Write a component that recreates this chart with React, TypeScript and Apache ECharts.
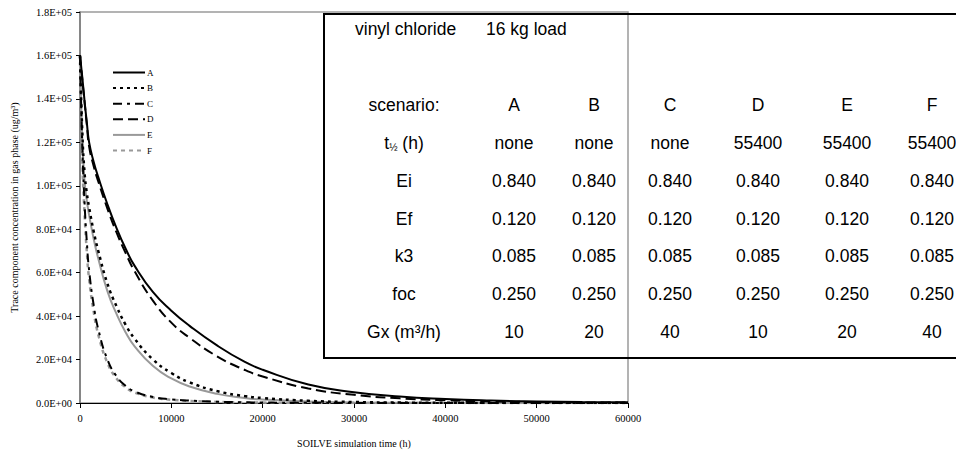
import React, { useEffect, useRef } from "react";
import * as echarts from "echarts";

// ---- data ----
const times = [0, 250, 500, 750, 1000, 1500, 2000, 3000, 4000, 5000, 6000, 8000, 10000, 12000, 15000, 18000, 20000, 25000, 30000, 35000, 40000, 45000, 50000, 55000, 60000];
const seriesA = [160000, 150000, 139000, 129000, 120000, 111000, 104000, 91500, 80500, 71000, 63000, 51000, 42500, 35500, 26500, 19000, 15300, 8500, 5000, 2950, 1800, 1100, 700, 450, 300];
const seriesB = [160000, 125000, 106000, 96500, 90000, 79000, 70000, 55000, 44500, 36000, 29500, 20000, 13800, 9500, 5500, 3200, 2300, 1000, 450, 200, 90, 40, 20, 10, 5];
const seriesC = [160000, 118000, 92000, 74000, 61000, 45000, 34000, 20000, 12300, 7900, 5300, 2800, 1700, 1100, 600, 330, 220, 90, 40, 18, 8, 4, 2, 1, 0];
const seriesD = [160000, 149000, 138500, 128000, 118000, 109000, 102000, 89500, 78500, 69000, 60500, 47000, 37000, 30000, 21500, 15300, 12200, 6700, 3750, 2150, 1250, 750, 450, 280, 180];
const seriesE = [160000, 122000, 102000, 93000, 86500, 75500, 66500, 51500, 41000, 32500, 26000, 17000, 11300, 7600, 4200, 2300, 1600, 650, 270, 110, 45, 20, 8, 3, 1];
const seriesF = [160000, 112000, 87000, 69500, 57000, 42000, 31500, 18500, 11300, 7200, 4800, 2500, 1500, 950, 500, 270, 180, 70, 30, 13, 6, 3, 1, 1, 0];

const scenarioNames = ["A", "B", "C", "D", "E", "F"];
const halfLives = ["none", "none", "none", "55400", "55400", "55400"];
const eiValues = ["0.840", "0.840", "0.840", "0.840", "0.840", "0.840"];
const efValues = ["0.120", "0.120", "0.120", "0.120", "0.120", "0.120"];
const k3Values = ["0.085", "0.085", "0.085", "0.085", "0.085", "0.085"];
const focValues = ["0.250", "0.250", "0.250", "0.250", "0.250", "0.250"];
const gxValues = ["10", "20", "40", "10", "20", "40"];
const rowLabels = ["scenario:", "t½ (h)", "Ei", "Ef", "k3", "foc", "Gx (m³/h)"];
const tableTitle = ["vinyl chloride", "16 kg load"];
const xTicks = { min: 0, max: 60000, interval: 10000 };
const yTicks = { min: 0, max: 180000, interval: 20000 };

const SERIF = "'Liberation Serif', 'Times New Roman', serif";
const SANS = "'Liberation Sans', Arial, sans-serif";

function sci(v: number): string {
  if (v === 0) return "0.0E+00";
  const e = Math.floor(Math.log10(Math.abs(v)) + 1e-9);
  const m = v / Math.pow(10, e);
  return m.toFixed(1) + "E" + (e < 0 ? "-" : "+") + String(Math.abs(e)).padStart(2, "0");
}

export default function App() {
  const ref = useRef<HTMLDivElement>(null);
  useEffect(() => {
    if (!ref.current) return;
    const chart = echarts.init(ref.current, null, { renderer: "svg" });

    const styles: Record<string, any> = {
      A: { color: "#000", type: "solid", width: 2 },
      B: { color: "#000", type: [3, 4], width: 2.5 },
      C: { color: "#000", type: [9, 5, 3, 5], width: 2 },
      D: { color: "#000", type: [10, 5], width: 2 },
      E: { color: "#999", type: "solid", width: 2 },
      F: { color: "#999", type: [4, 4], width: 2.5 },
    };
    const all = [seriesA, seriesB, seriesC, seriesD, seriesE, seriesF];

    const series = scenarioNames.map((n, i) => ({
      name: n,
      type: "line",
      data: times.map((t, j) => [t, all[i][j]]),
      showSymbol: false,
      symbol: "none",
      smooth: 0.5,
      lineStyle: styles[n],
      itemStyle: { color: styles[n].color },
      z: 10 - i,
    }));

    // table graphics
    const colX = [514, 594, 670, 758, 847, 932];
    const labelX = 404;
    const rowY = [105, 143, 181, 219, 256, 294, 332];
    const rows = [scenarioNames, halfLives, eiValues, efValues, k3Values, focValues, gxValues];
    const FS = 17.5;
    const tfont = { fontFamily: SANS, fontSize: FS, fill: "#000" };
    const elements: any[] = [
      {
        type: "rect",
        shape: { x: 324, y: 14, width: 700, height: 344 },
        style: { fill: "none", stroke: "#000", lineWidth: 2 },
      },
      { type: "text", x: 355, y: 29, style: { ...tfont, text: tableTitle[0], textAlign: "left", textVerticalAlign: "middle" } },
      { type: "text", x: 486, y: 29, style: { ...tfont, text: tableTitle[1], textAlign: "left", textVerticalAlign: "middle" } },
    ];
    rowLabels.forEach((lab, r) => {
      if (r === 1) {
        elements.push({
          type: "text",
          x: labelX,
          y: rowY[r],
          style: {
            text: "{a|t}{s|½}{a| (h)}",
            textAlign: "center",
            textVerticalAlign: "middle",
            rich: {
              a: { fontFamily: SANS, fontSize: FS, fill: "#000" },
              s: { fontFamily: SANS, fontSize: 10, fill: "#000", verticalAlign: "bottom", padding: [7, 0, 0, 0] },
            },
          },
        });
      } else {
        elements.push({ type: "text", x: labelX, y: rowY[r], style: { ...tfont, text: lab, textAlign: "center", textVerticalAlign: "middle" } });
      }
      rows[r].forEach((v, c) => {
        elements.push({ type: "text", x: colX[c], y: rowY[r], style: { ...tfont, text: v, textAlign: "center", textVerticalAlign: "middle" } });
      });
    });

    chart.setOption({
      animation: false,
      backgroundColor: "#fff",
      grid: {
        left: 80,
        top: 12,
        right: 956 - 628,
        bottom: 453 - 408,
        show: true,
        borderColor: "#9a9a9a",
        borderWidth: 1.5,
        containLabel: false,
      },
      legend: {
        left: 112,
        top: 68,
        padding: 0,
        orient: "vertical",
        itemWidth: 32,
        itemHeight: 8,
        itemGap: 6.6,
        data: scenarioNames,
        itemStyle: { opacity: 0 },
        textStyle: { fontFamily: SERIF, fontSize: 9, color: "#000", padding: [0, 0, 0, -3] },
      },
      xAxis: {
        type: "value",
        min: xTicks.min,
        max: xTicks.max,
        interval: xTicks.interval,
        name: "SOILVE simulation time (h)",
        nameLocation: "middle",
        nameGap: 35,
        nameTextStyle: { fontFamily: SERIF, fontSize: 10, color: "#000" },
        axisLine: { show: true, onZero: false, lineStyle: { color: "#000", width: 1 } },
        axisTick: { show: true, inside: false, length: 5, lineStyle: { color: "#000" } },
        axisLabel: { fontFamily: SERIF, fontSize: 10.5, color: "#000", margin: 10, formatter: (v: number) => String(v) },
        splitLine: { show: false },
      },
      yAxis: {
        type: "value",
        min: yTicks.min,
        max: yTicks.max,
        interval: yTicks.interval,
        name: "Trace component concentration in gas phase (ug/m³)",
        nameLocation: "middle",
        nameRotate: 90,
        nameGap: 61,
        nameTextStyle: { fontFamily: SERIF, fontSize: 10, color: "#000" },
        axisLine: { show: true, onZero: false, lineStyle: { color: "#777", width: 1.5 } },
        axisTick: { show: true, inside: false, length: 4, lineStyle: { color: "#000" } },
        axisLabel: { fontFamily: SERIF, fontSize: 10.5, color: "#000", margin: 8, formatter: (v: number) => sci(v) },
        splitLine: { show: false },
      },
      series,
      graphic: { elements: elements.map((e) => ({ ...e, z: 100 })) },
    });
    return () => chart.dispose();
  }, []);

  return <div ref={ref} style={{ width: 956, height: 453, position: "absolute", left: 0, top: 0 }} />;
}
